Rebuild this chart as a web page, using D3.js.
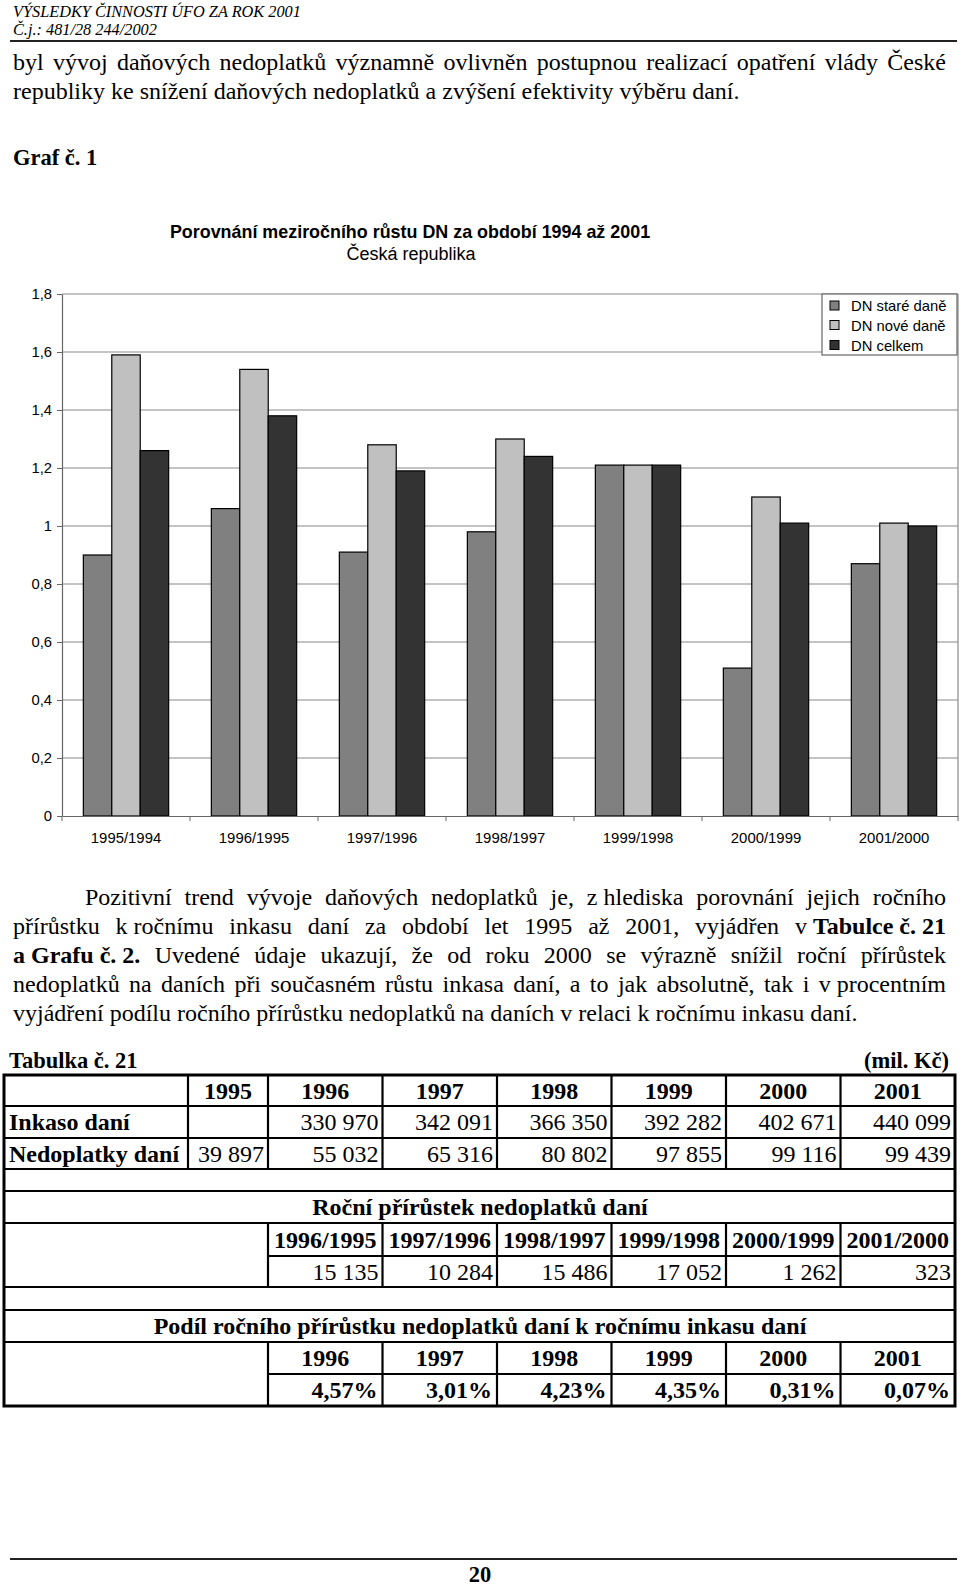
<!DOCTYPE html>
<html><head><meta charset="utf-8">
<script src="https://cdn.jsdelivr.net/npm/d3@7"></script>
<style>body{margin:0;background:#fff} svg{display:block}</style>
</head><body>
<svg id="page" width="960" height="1587"></svg>
<script>
// ---------------- DATA ----------------
const categories = ["1995/1994","1996/1995","1997/1996","1998/1997","1999/1998","2000/1999","2001/2000"];
const seriesNames = ["DN staré daně","DN nové daně","DN celkem"];
const stareDane = [0.90,1.06,0.91,0.98,1.21,0.51,0.87];
const noveDane  = [1.59,1.54,1.28,1.30,1.21,1.10,1.01];
const dnCelkem  = [1.26,1.38,1.19,1.24,1.21,1.01,1.00];
const yTicks = [0,0.2,0.4,0.6,0.8,1,1.2,1.4,1.6,1.8];
const seriesColors = ["#808080","#c0c0c0","#333333"];

const t1Years = ["1995","1996","1997","1998","1999","2000","2001"];
const inkasoDani = [null,330970,342091,366350,392282,402671,440099];
const nedoplatkyDani = [39897,55032,65316,80802,97855,99116,99439];
const t2Periods = ["1996/1995","1997/1996","1998/1997","1999/1998","2000/1999","2001/2000"];
const rocniPrirustek = [15135,10284,15486,17052,1262,323];
const t3Years = ["1996","1997","1998","1999","2000","2001"];
const podilPct = [4.57,3.01,4.23,4.35,0.31,0.07];

// ---------------- SETUP ----------------
const svg = d3.select("#page");
const SERIF = "'Liberation Serif','Times New Roman',serif";
const SANS = "'Liberation Sans',Arial,sans-serif";
const cz = d3.formatLocale({decimal:",", thousands:"\u00a0", grouping:[3], currency:["",""]});
const fmtInt = cz.format(",d");
const fmtPct = d => cz.format(".2f")(d) + "%";
const fmtTick = cz.format(".1~f");
const BODY = 24, TAB = 24, CAP = 22.5;

function parseLine(str) {
  let bold = false;
  return str.split(" ").map(w => {
    const segs = []; let cur = "";
    for (const ch of w) {
      if (ch === "*") { if (cur) segs.push([cur, bold]); cur = ""; bold = !bold; }
      else cur += (ch === "~" ? "\u00a0" : ch);
    }
    if (cur) segs.push([cur, bold]);
    return segs;
  });
}
function drawLine(g, x0, x1, y, str, justify, size) {
  const words = parseLine(str);
  const els = words.map(segs => {
    const t = g.append("text").attr("font-family", SERIF).attr("font-size", size).attr("fill", "#000").attr("y", y);
    segs.forEach(s => t.append("tspan").attr("font-weight", s[1] ? "bold" : "normal").text(s[0]));
    return t;
  });
  const widths = els.map(e => e.node().getComputedTextLength());
  const sum = d3.sum(widths);
  const gap = justify && els.length > 1 ? (x1 - x0 - sum) / (els.length - 1) : size * 0.25;
  let x = x0;
  els.forEach((e, i) => { e.attr("x", x); x += widths[i] + gap; });
}
function txt(g, x, y, s, opts = {}) {
  return g.append("text").attr("x", x).attr("y", y)
    .attr("font-family", opts.family || SERIF)
    .attr("font-size", opts.size || TAB)
    .attr("font-weight", opts.bold ? "bold" : "normal")
    .attr("font-style", opts.italic ? "italic" : "normal")
    .attr("text-anchor", opts.anchor || "start")
    .attr("fill", "#000").text(s);
}

// ---------------- HEADER ----------------
const page = svg.append("g");
txt(page, 13, 17, "VÝSLEDKY ČINNOSTI ÚFO ZA ROK 2001", {italic:true, size:16.3});
txt(page, 13, 35, "Č.j.: 481/28 244/2002", {italic:true, size:16.3});
page.append("line").attr("x1",10).attr("x2",957).attr("y1",41).attr("y2",41).attr("stroke","#222").attr("stroke-width",2);

drawLine(page, 13, 946, 70, "byl vývoj daňových nedoplatků významně ovlivněn postupnou realizací opatření vlády České", true, BODY);
drawLine(page, 13, 946, 99, "republiky ke snížení daňových nedoplatků a zvýšení efektivity výběru daní.", false, BODY);
txt(page, 13, 165, "Graf č. 1", {bold:true, size:CAP});

// ---------------- CHART ----------------
const chart = svg.append("g");
const plot = {left:62, right:958, top:294, bottom:816};
const x = d3.scaleBand().domain(categories).range([plot.left, plot.right]).padding(0);
const xs = d3.scaleBand().domain(seriesNames).range([0, x.bandwidth()]).paddingInner(0).paddingOuter(0.75);
const y = d3.scaleLinear().domain([0, 1.8]).range([plot.bottom, plot.top]);

chart.append("text").attr("x",410).attr("y",238).attr("text-anchor","middle")
  .attr("font-family",SANS).attr("font-weight","bold").attr("font-size",17.9).text("Porovnání meziročního růstu DN za období 1994 až 2001");
chart.append("text").attr("x",411).attr("y",260).attr("text-anchor","middle")
  .attr("font-family",SANS).attr("font-size",18).text("Česká republika");

// gridlines
chart.append("g").selectAll("line").data(yTicks.filter(d => d > 0)).join("line")
  .attr("x1",plot.left).attr("x2",plot.right).attr("y1",d=>y(d)).attr("y2",d=>y(d))
  .attr("stroke","#8a8a8a").attr("stroke-width",1.2);
chart.append("line").attr("x1",plot.right).attr("x2",plot.right).attr("y1",plot.top).attr("y2",plot.bottom)
  .attr("stroke","#8a8a8a").attr("stroke-width",1.2);

// bars
const seriesData = [stareDane, noveDane, dnCelkem];
seriesData.forEach((vals, si) => {
  chart.append("g").selectAll("rect").data(vals).join("rect")
    .attr("x", (d,i) => x(categories[i]) + xs(seriesNames[si]))
    .attr("y", d => y(d))
    .attr("width", xs.bandwidth())
    .attr("height", d => y(0) - y(d))
    .attr("fill", seriesColors[si])
    .attr("stroke", "#000").attr("stroke-width", 1.2);
});

// y axis
const yAxis = chart.append("g").attr("transform",`translate(${plot.left},0)`)
  .call(d3.axisLeft(y).tickValues(yTicks).tickFormat(fmtTick).tickSize(5).tickPadding(5).tickSizeOuter(0));
yAxis.select(".domain").attr("stroke","#666").attr("stroke-width",1.2);
yAxis.selectAll(".tick line").attr("stroke","#666");
yAxis.selectAll("text").attr("font-family",SANS).attr("font-size",14.8).attr("fill","#000");

// x axis
const xAxis = chart.append("g").attr("transform",`translate(0,${plot.bottom})`)
  .call(d3.axisBottom(x).tickSize(0).tickPadding(16).tickSizeOuter(0));
xAxis.select(".domain").attr("stroke","#666").attr("stroke-width",1.2);
xAxis.selectAll("text").attr("font-family",SANS).attr("font-size",14.9).attr("fill","#000");
const bounds = categories.map(c => x(c)).concat([plot.right]);
xAxis.append("g").selectAll("line").data(bounds).join("line")
  .attr("x1",d=>d).attr("x2",d=>d).attr("y1",0).attr("y2",5).attr("stroke","#666");

// legend
const lg = chart.append("g");
lg.append("rect").attr("x",822).attr("y",294).attr("width",135).attr("height",61).attr("fill","#fff").attr("stroke","#666").attr("stroke-width",1.2);
const legRows = [306, 325.5, 345.5];
seriesNames.forEach((n, i) => {
  lg.append("rect").attr("x",830).attr("y",legRows[i]-5).attr("width",9).attr("height",9)
    .attr("fill",seriesColors[i]).attr("stroke","#000").attr("stroke-width",1);
  lg.append("text").attr("x",851).attr("y",legRows[i]+5.3).attr("font-family",SANS).attr("font-size",14.8).text(n);
});

// ---------------- PARAGRAPH 2 ----------------
const p2 = [
  ["Pozitivní trend vývoje daňových nedoplatků je, z~hlediska porovnání jejich ročního", true, 85],
  ["přírůstku k~ročnímu inkasu daní za období let 1995 až 2001, vyjádřen v~*Tabulce~č.~21*", true, 13],
  ["*a~Grafu~č.~2.* Uvedené údaje ukazují, že od roku 2000 se výrazně snížil roční přírůstek", true, 13],
  ["nedoplatků na daních při současném růstu inkasa daní, a to jak absolutně, tak i v~procentním", true, 13],
  ["vyjádření podílu ročního přírůstku nedoplatků na daních v relaci k ročnímu inkasu daní.", false, 13]
];
const p2Base = [905, 934, 963, 992, 1021];
p2.forEach((l, i) => drawLine(page, l[2], 946, p2Base[i], l[0], l[1], BODY));

// ---------------- TABLE ----------------
const tb = svg.append("g");
txt(tb, 9, 1068, "Tabulka č. 21", {bold:true, size:CAP});
txt(tb, 949, 1068, "(mil. Kč)", {bold:true, anchor:"end", size:CAP});

const T = {left:4, right:955, label1:188, colStart:268};
const cols = d3.scaleBand().domain(d3.range(6)).range([T.colStart, T.right]);
const rowsY = [1075, 1106, 1138, 1169, 1191, 1223, 1256, 1287, 1310, 1342, 1374, 1406];
const rc = i => (rowsY[i] + rowsY[i+1]) / 2 + 8;
const LW = 2.2;
const ln = (x1,y1,x2,y2,w) => tb.append("line").attr("x1",x1).attr("y1",y1).attr("x2",x2).attr("y2",y2).attr("stroke","#000").attr("stroke-width",w||LW);

[1,2,3,4,5,7,8,9].forEach(i => ln(T.left, rowsY[i], T.right, rowsY[i]));
[6,10].forEach(i => ln(T.colStart, rowsY[i], T.right, rowsY[i]));
[T.label1].concat(d3.range(6).map(i => cols(i))).forEach(xv => ln(xv, rowsY[0], xv, rowsY[3]));
d3.range(6).map(i => cols(i)).forEach(xv => { ln(xv, rowsY[5], xv, rowsY[7]); ln(xv, rowsY[9], xv, rowsY[11]); });
tb.append("rect").attr("x",T.left).attr("y",rowsY[0]).attr("width",T.right-T.left).attr("height",rowsY[11]-rowsY[0])
  .attr("fill","none").attr("stroke","#000").attr("stroke-width",3);

const colL = i => i === 0 ? T.label1 : cols(i-1);
const colR = i => i === 0 ? T.colStart : cols(i-1) + cols.bandwidth();
t1Years.forEach((yr, i) => txt(tb, (colL(i)+colR(i))/2, rc(0), yr, {bold:true, anchor:"middle"}));
txt(tb, 9, rc(1), "Inkaso daní", {bold:true});
txt(tb, 9, rc(2), "Nedoplatky daní", {bold:true});
inkasoDani.forEach((v, i) => { if (v != null) txt(tb, colR(i)-4, rc(1), fmtInt(v), {anchor:"end"}); });
nedoplatkyDani.forEach((v, i) => txt(tb, colR(i)-4, rc(2), fmtInt(v), {anchor:"end"}));

txt(tb, 480, rc(4), "Roční přírůstek nedoplatků daní", {bold:true, anchor:"middle"});
t2Periods.forEach((p, i) => txt(tb, cols(i)+cols.bandwidth()/2, rc(5), p, {bold:true, anchor:"middle"}));
rocniPrirustek.forEach((v, i) => txt(tb, cols(i)+cols.bandwidth()-4, rc(6), fmtInt(v), {anchor:"end"}));

txt(tb, 480, rc(8), "Podíl ročního přírůstku nedoplatků daní k ročnímu inkasu daní", {bold:true, anchor:"middle"});
t3Years.forEach((p, i) => txt(tb, cols(i)+cols.bandwidth()/2, rc(9), p, {bold:true, anchor:"middle"}));
podilPct.forEach((v, i) => txt(tb, cols(i)+cols.bandwidth()-5, rc(10), fmtPct(v), {bold:true, anchor:"end"}));

// ---------------- FOOTER ----------------
page.append("line").attr("x1",10).attr("x2",957).attr("y1",1559).attr("y2",1559).attr("stroke","#222").attr("stroke-width",2);
txt(page, 480, 1582, "20", {bold:true, anchor:"middle", size:CAP});
</script>
</body></html>
